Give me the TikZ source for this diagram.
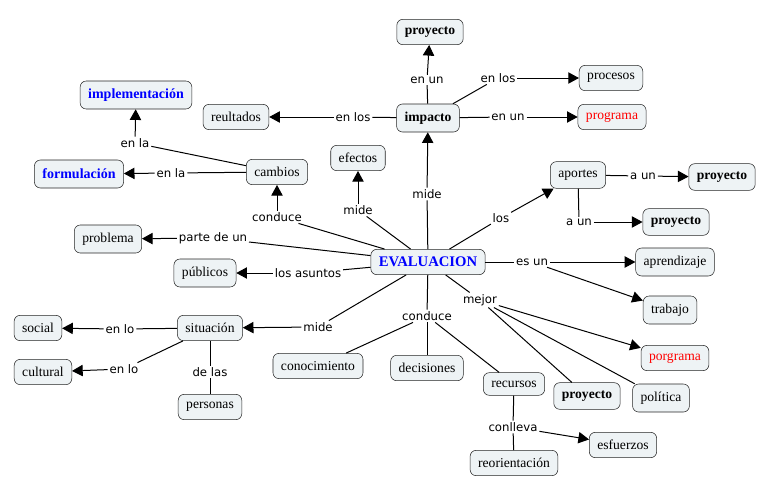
\documentclass[tikz,border=0pt]{standalone}
\usepackage{fontspec}
\usetikzlibrary{arrows.meta,positioning}
\newfontfamily\conceptfont{Liberation Serif}
\newfontfamily\linkfont{DejaVu Sans}
\definecolor{cbg}{RGB}{238,243,245}
\definecolor{cblue}{RGB}{0,0,255}
\definecolor{cred}{RGB}{255,0,0}

\begin{document}
\begin{tikzpicture}
[x=0.75pt,y=-0.75pt,
    concept/.style={draw=black!85,fill=cbg,rounded corners=4.5pt,minimum height=19pt,
    inner xsep=6pt,font=\conceptfont\fontsize{10.2}{12}\selectfont},
    bc/.style={concept,font=\conceptfont\bfseries\fontsize{10.2}{12}\selectfont},
    blc/.style={concept,text=cblue,minimum height=21pt,
    font=\conceptfont\bfseries\fontsize{10.5}{12}\selectfont},
    rc/.style={concept,text=cred},
    lnk/.style={inner sep=1.2pt,font=\linkfont\fontsize{8.8}{10}\selectfont},
    myedge/.style={line width=0.75pt},
    myarrow/.style={myedge,-{Triangle[length=8pt,width=8.5pt]}}]
\useasboundingbox (0,0) rectangle (768,482);
%% concepts
\node (ev) [blc,font=\conceptfont\bfseries\fontsize{11}{13}\selectfont,minimum height=19pt] at (428,262) {EVALUACION};
\node (proyA) [bc] at (430,32) {proyecto};
\node (impl) [blc] at (136,95) {implementación};
\node (reult) [concept] at (236,117) {reultados};
\node (impacto) [bc,minimum height=21pt] at (428,118) {impacto};
\node (procesos) [concept] at (611,78) {procesos};
\node (programa) [rc] at (612,117) {programa};
\node (efectos) [concept] at (358,158) {efectos};
\node (cambios) [concept] at (277,172) {cambios};
\node (formul) [blc] at (79,174) {formulación};
\node (aportes) [concept,minimum height=20pt] at (578,175) {aportes};
\node (proyB) [bc,minimum height=20pt] at (722,177) {proyecto};
\node (proyC) [bc,minimum height=20pt] at (676,222) {proyecto};
\node (problema) [concept,minimum height=21pt] at (108,239) {problema};
\node (publicos) [concept,minimum height=21pt] at (205,273) {públicos};
\node (aprend) [concept,minimum height=21pt] at (675,262) {aprendizaje};
\node (trabajo) [concept,minimum height=21pt] at (670,310) {trabajo};
\node (social) [concept] at (38,328) {social};
\node (situacion) [concept] at (210,328) {situación};
\node (cultural) [concept] at (43,372) {cultural};
\node (conoc) [concept] at (318,366) {conocimiento};
\node (decis) [concept] at (427,368) {decisiones};
\node (porgrama) [rc] at (675,358) {porgrama};
\node (recursos) [concept,minimum height=17pt] at (514,384) {recursos};
\node (proyD) [bc,minimum height=20pt] at (587,396) {proyecto};
\node (politica) [concept,minimum height=21pt] at (661,398) {política};
\node (personas) [concept] at (210,407) {personas};
\node (esfuerzos) [concept] at (623,445) {esfuerzos};
\node (reorient) [concept] at (514,463) {reorientación};
%% linking phrases
\node (l1) [lnk] at (427,80) {en un};
\node (l2) [lnk] at (498,78) {en los};
\node (l3) [lnk] at (508,117) {en un};
\node (l4) [lnk] at (353,117) {en los};
\node (l5) [lnk] at (427,194) {mide};
\node (l6) [lnk] at (358,210) {mide};
\node (l7) [lnk] at (277,217) {conduce};
\node (l8) [lnk] at (135,143) {en la};
\node (l9) [lnk] at (171,173) {en la};
\node (l10) [lnk] at (213,238) {parte de un};
\node (l11) [lnk] at (308,273) {los asuntos};
\node (l12) [lnk] at (318,327) {mide};
\node (l13) [lnk] at (120,329) {en lo};
\node (l14) [lnk] at (124,369) {en lo};
\node (l15) [lnk] at (210,372) {de las};
\node (l16) [lnk] at (427,316) {conduce};
\node (l17) [lnk] at (480,300) {mejor};
\node (l18) [lnk] at (532,262) {es un};
\node (l19) [lnk] at (501,218) {los};
\node (l20) [lnk] at (643,176) {a un};
\node (l21) [lnk] at (579,222) {a un};
\node (l22) [lnk] at (513,427) {conlleva};
%% edges
\draw[myedge] (ev) -- (l5);
\draw[myarrow] (l5) -- (impacto);
\draw[myedge] (impacto) -- (l1);
\draw[myarrow] (l1) -- (proyA);
\draw[myedge] (impacto) -- (l2);
\draw[myarrow] (l2) -- (procesos);
\draw[myedge] (impacto) -- (l3);
\draw[myarrow] (l3) -- (programa);
\draw[myedge] (impacto) -- (l4);
\draw[myarrow] (l4) -- (reult);
\draw[myedge] (ev) -- (l6);
\draw[myarrow] (l6) -- (efectos);
\draw[myedge] (ev) -- (l7);
\draw[myarrow] (l7) -- (cambios);
\draw[myedge] (cambios) -- (l8);
\draw[myarrow] (l8) -- (impl);
\draw[myedge] (cambios) -- (l9);
\draw[myarrow] (l9) -- (formul);
\draw[myedge] (ev) -- (l10);
\draw[myarrow] (l10) -- (problema);
\draw[myedge] (ev) -- (l11);
\draw[myarrow] (l11) -- (publicos);
\draw[myedge] (ev) -- (l12);
\draw[myarrow] (l12) -- (situacion);
\draw[myedge] (situacion) -- (l13);
\draw[myarrow] (l13) -- (social);
\draw[myedge] (situacion) -- (l14);
\draw[myarrow] (l14) -- (cultural);
\draw[myedge] (situacion) -- (l15);
\draw[myedge] (l15) -- (personas);
\draw[myedge] (ev) -- (l16);
\draw[myedge] (l16) -- (conoc);
\draw[myedge] (l16) -- (decis);
\draw[myedge] (l16) -- (recursos);
\draw[myedge] (recursos) -- (l22);
\draw[myedge] (l22) -- (reorient);
\draw[myarrow] (l22) -- (esfuerzos);
\draw[myedge] (ev) -- (l17);
\draw[myarrow] (l17) -- (porgrama);
\draw[myedge] (l17) -- (proyD);
\draw[myedge] (l17) -- (politica);
\draw[myedge] (ev) -- (l18);
\draw[myarrow] (l18) -- (aprend);
\draw[myarrow] (l18) -- (trabajo);
\draw[myedge] (ev) -- (l19);
\draw[myarrow] (l19) -- (aportes);
\draw[myedge] (aportes) -- (l20);
\draw[myarrow] (l20) -- (proyB);
\draw[myedge] (aportes) -- (l21);
\draw[myarrow] (l21) -- (proyC);
\end{tikzpicture}
\end{document}
